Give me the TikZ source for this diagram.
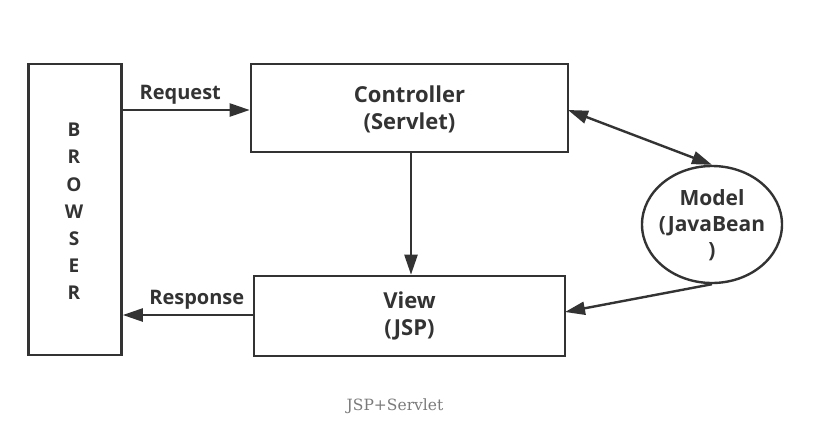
\documentclass[tikz,border=0pt]{standalone}
\usepackage{fontspec}
\setmainfont{Open Sans}
\newfontfamily\capfont{DejaVu Serif}
\usetikzlibrary{arrows.meta,shapes.geometric}
\definecolor{ink}{HTML}{333333}
\definecolor{capgray}{HTML}{7A7A7A}
\begin{document}
\begin{tikzpicture}[x=1pt,y=-1pt,
  box/.style={draw=ink,line width=2.6pt,inner sep=0pt},
  lbl/.style={text=ink,font=\fontsize{22}{27}\selectfont\bfseries,align=center},
  small/.style={text=ink,font=\fontsize{20}{22}\selectfont\bfseries},
  tip/.style={},
  conn/.style={draw=ink,line width=2.4pt,-{Triangle[length=20pt,width=13pt]}},
  biconn/.style={draw=ink,line width=2.4pt,{Triangle[length=20pt,width=13pt]}-{Triangle[length=20pt,width=13pt]}}]
\useasboundingbox (0,0) rectangle (833,432);
% boxes
\node[box,minimum width=93pt,minimum height=291pt] (browser) at (75,209.5) {};
\node[box,minimum width=317pt,minimum height=88pt] (ctrl) at (409.5,108) {};
\node[box,minimum width=311pt,minimum height=80pt] (view) at (409.5,316) {};
\node[draw=ink,line width=2.4pt,ellipse,minimum width=140pt,minimum height=117pt,inner sep=0pt] (model) at (712,224.5) {};
% texts
\node[lbl] (ctrltxt) at (409.5,109.5) {Controller\\(Servlet)};
\node[lbl] (viewtxt) at (409.5,315.5) {View\\(JSP)};
\node[lbl,font=\fontsize{21}{26}\selectfont\bfseries] (modeltxt) at (712,225) {Model\\(JavaBean\\)};
\foreach \l [count=\i] in {B,R,O,W,S,E,R}
  \node[small,font=\fontsize{19}{20}\selectfont\bfseries] (b\i) at (74,130+27.2*\i-27.2) {\l};
% connectors
\coordinate (rqs) at (browser.east |- 0,110);
\coordinate (rqe) at (ctrl.west |- 0,110);
\draw[conn] (rqs) -- (rqe) node[midway,above=1pt,small,xshift=-6pt] (reqlbl) {Request};
\coordinate (rps) at (view.west |- 0,315);
\coordinate (rpe) at (browser.east |- 0,315);
\draw[conn] (rps) -- (rpe) node[midway,above=1pt,small,xshift=9pt] (reslbl) {Response};
\draw[conn] (ctrl.south -| 411,0) -- (view.north -| 411,0);
\coordinate (cm) at (568,110);
\draw[biconn] (cm) -- (model.north);
\coordinate (vm) at (565,312);
\draw[conn] (model.south) -- (vm);
% caption
\node[text=capgray,font=\capfont\fontsize{15.5}{18}\selectfont] (cap) at (395,406) {JSP+Servlet};
\end{tikzpicture}
\end{document}
